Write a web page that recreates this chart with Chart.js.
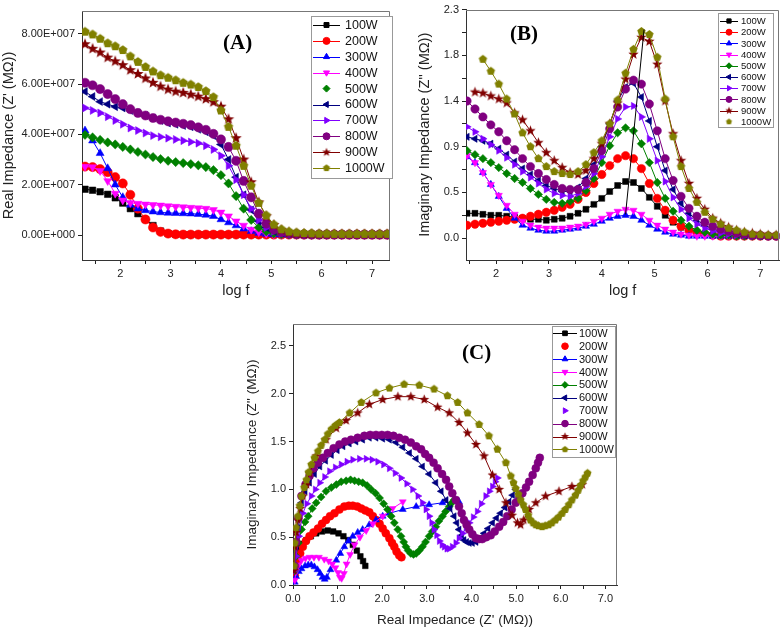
<!DOCTYPE html>
<html>
<head>
<meta charset="utf-8">
<script src="https://cdn.jsdelivr.net/npm/chart.js@4.4.0/dist/chart.umd.min.js"></script>
<style>
body{margin:0;background:#fff;width:784px;height:630px;position:relative;overflow:hidden}
canvas{position:absolute}
.tag{position:absolute;font-family:"Liberation Serif","Times New Roman",serif;font-weight:bold;font-size:21px;line-height:21px;color:#000}
</style>
</head>
<body>
<canvas id="chartA" width="395" height="300" style="left:0;top:0"></canvas>
<canvas id="chartB" width="379" height="300" style="left:405px;top:0"></canvas>
<canvas id="chartC" width="390" height="330" style="left:235px;top:300px"></canvas>
<div class="tag" style="left:223px;top:32px">(A)</div>
<div class="tag" style="left:510px;top:23px">(B)</div>
<div class="tag" style="left:462px;top:342px">(C)</div>
<script>
// ---- data ----
const seriesNames = ['100W','200W','300W','400W','500W','600W','700W','800W','900W','1000W'];

const logF = [1.3,1.45,1.6,1.75,1.9,2.05,2.2,2.35,2.5,2.65,
  2.8,2.95,3.1,3.25,3.4,3.55,3.7,3.85,4.0,4.15,
  4.3,4.45,4.6,4.75,4.9,5.05,5.2,5.35,5.5,5.65,
  5.8,5.95,6.1,6.25,6.4,6.55,6.7,6.85,7.0,7.15,7.3];

// (A) real impedance, units of 1E+007
const zReal100 = [1.82,1.78,1.72,1.62,1.48,1.27,1.05,0.85,0.62,0.38,
  0.16,0.06,0.03,0.02,0.02,0.02,0.02,0.02,0.02,0.02,
  0.02,0.02,0.02,0.02,0.02,0.02,0.02,0.02,0.02,0.02,
  0.02,0.02,0.02,0.02,0.02,0.02,0.02,0.02,0.02,0.02,0.02];
const zReal200 = [2.72,2.70,2.62,2.50,2.30,2.05,1.60,1.05,0.62,0.30,
  0.13,0.06,0.03,0.02,0.02,0.02,0.02,0.02,0.02,0.02,
  0.02,0.02,0.02,0.02,0.02,0.02,0.02,0.02,0.02,0.02,
  0.02,0.02,0.02,0.02,0.02,0.02,0.02,0.02,0.02,0.02,0.02];
const zReal300 = [4.15,3.75,3.25,2.65,2.00,1.50,1.20,1.05,0.98,0.93,
  0.90,0.88,0.87,0.86,0.85,0.83,0.80,0.75,0.62,0.50,
  0.38,0.25,0.15,0.08,0.04,0.02,0.02,0.02,0.02,0.02,
  0.02,0.02,0.02,0.02,0.02,0.02,0.02,0.02,0.02,0.02,0.02];
const zReal400 = [2.72,2.70,2.55,2.15,1.65,1.38,1.28,1.25,1.22,1.20,
  1.18,1.15,1.13,1.11,1.09,1.07,1.05,1.00,0.90,0.75,
  0.55,0.38,0.22,0.12,0.06,0.03,0.02,0.02,0.02,0.02,
  0.02,0.02,0.02,0.02,0.02,0.02,0.02,0.02,0.02,0.02,0.02];
const zReal500 = [3.98,3.88,3.78,3.68,3.60,3.50,3.40,3.30,3.20,3.10,
  3.02,2.95,2.90,2.86,2.82,2.77,2.70,2.58,2.38,2.05,
  1.55,1.05,0.60,0.30,0.15,0.07,0.04,0.03,0.02,0.02,
  0.02,0.02,0.02,0.02,0.02,0.02,0.02,0.02,0.02,0.02,0.02];
const zReal600 = [5.70,5.50,5.30,5.20,5.10,5.05,4.95,4.85,4.75,4.65,
  4.55,4.45,4.40,4.35,4.30,4.20,4.10,3.95,3.60,3.00,
  2.30,1.60,1.00,0.55,0.30,0.15,0.08,0.05,0.03,0.02,
  0.02,0.02,0.02,0.02,0.02,0.02,0.02,0.02,0.02,0.02,0.02];
const zReal700 = [5.05,4.95,4.85,4.70,4.55,4.40,4.25,4.15,4.05,3.95,
  3.90,3.85,3.80,3.75,3.70,3.65,3.55,3.40,3.15,2.75,
  2.20,1.60,1.05,0.60,0.30,0.15,0.07,0.04,0.03,0.02,
  0.02,0.02,0.02,0.02,0.02,0.02,0.02,0.02,0.02,0.02,0.02];
const zReal800 = [6.05,5.95,5.80,5.60,5.40,5.20,5.00,4.85,4.75,4.65,
  4.58,4.52,4.47,4.42,4.37,4.28,4.18,4.02,3.80,3.50,
  2.95,2.15,1.50,0.85,0.45,0.22,0.11,0.06,0.04,0.03,
  0.02,0.02,0.02,0.02,0.02,0.02,0.02,0.02,0.02,0.02,0.02];
const zReal900 = [7.58,7.40,7.25,7.05,6.90,6.75,6.55,6.40,6.22,6.05,
  5.90,5.78,5.70,5.65,5.58,5.50,5.40,5.28,5.10,4.60,
  3.85,3.00,2.10,1.30,0.75,0.40,0.20,0.10,0.06,0.05,
  0.04,0.03,0.03,0.03,0.03,0.03,0.03,0.03,0.03,0.03,0.03];
const zReal1000 = [8.08,7.97,7.80,7.62,7.50,7.35,7.10,6.88,6.68,6.50,
  6.35,6.25,6.15,6.05,5.98,5.88,5.72,5.48,4.95,4.30,
  3.55,2.75,1.96,1.28,0.78,0.42,0.23,0.14,0.10,0.08,
  0.07,0.06,0.06,0.05,0.05,0.05,0.05,0.05,0.05,0.05,0.05];

// (B) imaginary impedance, MΩ
const zImag100 = [null,0.25,0.25,0.24,0.23,0.23,0.22,0.21,0.20,0.19,
  0.19,0.18,0.19,0.20,0.22,0.25,0.29,0.34,0.40,0.47,
  0.53,0.57,0.56,0.50,0.41,0.32,0.23,0.16,0.11,0.08,
  0.05,0.04,0.03,0.02,0.02,0.02,0.02,0.02,0.02,0.02,0.02];
const zImag200 = [null,0.13,0.14,0.15,0.16,0.17,0.18,0.19,0.20,0.22,
  0.24,0.26,0.28,0.31,0.34,0.39,0.46,0.55,0.64,0.73,
  0.80,0.83,0.80,0.70,0.55,0.40,0.28,0.18,0.12,0.08,
  0.05,0.04,0.03,0.02,0.02,0.02,0.02,0.02,0.02,0.02,0.02];
const zImag300 = [null,0.82,0.76,0.66,0.54,0.42,0.30,0.20,0.13,0.10,
  0.08,0.07,0.07,0.08,0.09,0.10,0.12,0.14,0.17,0.20,
  0.22,0.23,0.22,0.18,0.13,0.09,0.06,0.04,0.03,0.02,
  0.02,0.02,0.02,0.02,0.02,0.02,0.02,0.02,0.02,0.02,0.02];
const zImag400 = [null,0.83,0.76,0.66,0.54,0.43,0.33,0.24,0.17,0.13,
  0.11,0.10,0.10,0.10,0.11,0.12,0.14,0.17,0.20,0.24,
  0.27,0.29,0.28,0.24,0.18,0.13,0.09,0.06,0.04,0.03,
  0.02,0.02,0.02,0.02,0.02,0.02,0.02,0.02,0.02,0.02,0.02];
const zImag500 = [null,0.88,0.84,0.80,0.76,0.71,0.65,0.60,0.56,0.50,
  0.44,0.39,0.36,0.35,0.37,0.40,0.48,0.60,0.76,0.93,
  1.06,1.11,1.08,0.95,0.76,0.56,0.40,0.27,0.18,0.12,
  0.08,0.06,0.04,0.03,0.03,0.02,0.02,0.02,0.02,0.02,0.02];
const zImag600 = [null,1.02,1.00,0.98,0.95,0.90,0.84,0.77,0.70,0.64,
  0.58,0.53,0.50,0.47,0.47,0.51,0.60,0.74,0.92,1.15,
  1.38,1.52,1.56,1.42,1.18,0.92,0.68,0.49,0.35,0.25,
  0.18,0.13,0.09,0.07,0.05,0.04,0.03,0.03,0.02,0.02,0.02];
const zImag700 = [null,1.12,1.07,1.00,0.94,0.88,0.81,0.74,0.67,0.61,
  0.55,0.49,0.45,0.43,0.42,0.45,0.52,0.65,0.82,1.02,
  1.20,1.32,1.33,1.22,1.00,0.78,0.57,0.41,0.29,0.20,
  0.14,0.10,0.07,0.05,0.04,0.03,0.03,0.02,0.02,0.02,0.02];
const zImag800 = [null,1.38,1.30,1.22,1.14,1.07,0.98,0.89,0.80,0.72,
  0.65,0.59,0.54,0.50,0.49,0.49,0.56,0.70,0.88,1.10,
  1.32,1.50,1.59,1.55,1.35,1.08,0.80,0.58,0.42,0.30,
  0.22,0.16,0.12,0.09,0.07,0.05,0.04,0.03,0.03,0.02,0.02];
const zImag900 = [null,null,1.47,1.46,1.43,1.40,1.36,1.26,1.19,1.08,
  0.96,0.86,0.78,0.71,0.66,0.64,0.68,0.80,0.95,1.15,
  1.36,1.60,1.85,2.02,1.98,1.75,1.38,1.05,0.78,0.55,
  0.40,0.29,0.20,0.15,0.11,0.08,0.06,0.05,0.04,0.03,0.03];
const zImag1000 = [null,null,null,1.80,1.68,1.55,1.40,1.25,1.06,0.92,
  0.80,0.72,0.67,0.65,0.64,0.67,0.74,0.86,0.98,1.15,
  1.39,1.66,1.90,2.08,2.05,1.82,1.40,1.02,0.72,0.50,
  0.36,0.26,0.19,0.14,0.10,0.08,0.06,0.04,0.035,0.03,0.03];
const peakArrow = [[4.45,0.24],[4.8,2.1]];

// (C) Nyquist: [Z' MΩ, Z'' MΩ]
const nyq100 = [[0.04,0.12],[0.07,0.22],[0.1,0.3],[0.15,0.37],[0.22,0.43],[0.3,0.47],[0.4,0.51],[0.52,0.54],[0.65,0.56],[0.78,0.57],
  [0.9,0.56],[1.02,0.54],[1.13,0.51],[1.24,0.47],[1.34,0.42],[1.43,0.36],[1.51,0.3],[1.57,0.25],[1.62,0.2]];
const nyq200 = [[0.04,0.1],[0.07,0.18],[0.11,0.26],[0.16,0.33],[0.22,0.4],[0.29,0.46],[0.37,0.51],[0.46,0.55],[0.56,0.59],[0.65,0.64],
  [0.74,0.68],[0.83,0.72],[0.93,0.75],[1.04,0.79],[1.15,0.82],[1.25,0.83],[1.34,0.83],[1.44,0.82],[1.53,0.8],[1.62,0.78],
  [1.71,0.76],[1.79,0.72],[1.86,0.68],[1.94,0.64],[2.01,0.59],[2.08,0.54],[2.16,0.49],[2.22,0.44],[2.27,0.4],[2.32,0.35],[2.38,0.31],[2.43,0.29]];
const nyq300 = [[0.04,0.03],[0.07,0.09],[0.13,0.14],[0.19,0.17],[0.27,0.2],[0.34,0.21],[0.41,0.21],[0.48,0.19],[0.55,0.16],[0.61,0.12],
  [0.66,0.08],[0.71,0.06],[0.76,0.08],[0.84,0.16],[0.97,0.26],[1.06,0.33],[1.15,0.4],[1.24,0.46],[1.34,0.51],[1.45,0.55],
  [1.56,0.58],[1.71,0.63],[1.86,0.68],[2.01,0.72],[2.16,0.75],[2.46,0.79],[2.76,0.82],[3.05,0.84],[3.35,0.86],[3.72,0.87]];
const nyq400 = [[0.04,0.05],[0.07,0.14],[0.12,0.21],[0.19,0.26],[0.28,0.28],[0.37,0.29],[0.47,0.29],[0.58,0.29],[0.7,0.27],[0.8,0.25],
  [0.88,0.22],[0.95,0.18],[1.01,0.13],[1.05,0.08],[1.09,0.07],[1.14,0.12],[1.2,0.22],[1.28,0.32],[1.38,0.42],[1.5,0.5],
  [1.64,0.57],[1.79,0.64],[2.01,0.72],[2.23,0.8],[2.46,0.87]];
const nyq500 = [[0.04,0.15],[0.07,0.3],[0.12,0.44],[0.19,0.58],[0.27,0.66],[0.34,0.72],[0.43,0.8],[0.52,0.86],[0.63,0.92],[0.74,0.98],
  [0.86,1.02],[0.97,1.05],[1.08,1.08],[1.19,1.09],[1.29,1.1],[1.38,1.09],[1.47,1.08],[1.56,1.07],[1.66,1.04],[1.75,1.0],
  [1.85,0.96],[1.94,0.91],[2.03,0.85],[2.12,0.79],[2.2,0.72],[2.27,0.65],[2.35,0.58],[2.42,0.51],[2.48,0.45],[2.53,0.4],
  [2.58,0.36],[2.64,0.33],[2.7,0.32],[2.76,0.33],[2.83,0.36],[2.9,0.4],[2.97,0.45],[3.05,0.51],[3.12,0.56],[3.2,0.61],
  [3.27,0.67],[3.35,0.72],[3.42,0.77],[3.5,0.82],[3.56,0.86],[3.61,0.89]];
const nyq600 = [[0.04,0.2],[0.07,0.4],[0.12,0.6],[0.19,0.86],[0.27,0.98],[0.37,1.07],[0.48,1.16],[0.6,1.24],[0.73,1.3],[0.86,1.36],
  [0.99,1.41],[1.12,1.45],[1.26,1.48],[1.41,1.5],[1.56,1.52],[1.71,1.54],[1.86,1.54],[2.01,1.53],[2.16,1.52],[2.31,1.49],
  [2.46,1.44],[2.61,1.38],[2.76,1.32],[2.9,1.24],[3.05,1.16],[3.2,1.07],[3.32,0.98],[3.43,0.89],[3.52,0.8],[3.61,0.72],
  [3.67,0.65],[3.72,0.58],[3.78,0.52],[3.83,0.47],[3.89,0.45],[3.95,0.44],[4.02,0.44],[4.1,0.45],[4.19,0.49],[4.28,0.54],
  [4.37,0.59],[4.47,0.65],[4.56,0.7],[4.65,0.75],[4.75,0.81],[4.84,0.87],[4.92,0.94],[4.99,1.0]];
const nyq700 = [[0.04,0.15],[0.07,0.3],[0.13,0.51],[0.22,0.75],[0.31,0.85],[0.41,0.93],[0.5,1.0],[0.6,1.07],[0.71,1.13],[0.82,1.19],
  [0.95,1.23],[1.08,1.26],[1.21,1.29],[1.34,1.31],[1.49,1.32],[1.64,1.32],[1.77,1.31],[1.9,1.29],[2.03,1.26],[2.16,1.22],
  [2.29,1.17],[2.42,1.12],[2.55,1.06],[2.68,1.0],[2.8,0.93],[2.9,0.86],[2.98,0.79],[3.05,0.72],[3.11,0.65],[3.16,0.58],
  [3.22,0.52],[3.28,0.46],[3.34,0.42],[3.39,0.4],[3.45,0.38],[3.5,0.38],[3.57,0.4],[3.65,0.44],[3.72,0.49],[3.8,0.54],
  [3.88,0.6],[3.95,0.65],[4.04,0.71],[4.13,0.77],[4.22,0.85],[4.32,0.93],[4.4,0.98],[4.47,1.03],[4.53,1.08],[4.58,1.12]];
const nyq800 = [[0.04,0.2],[0.07,0.45],[0.12,0.7],[0.19,0.93],[0.28,1.05],[0.37,1.14],[0.46,1.22],[0.56,1.28],[0.67,1.33],[0.78,1.38],
  [0.91,1.43],[1.04,1.47],[1.17,1.5],[1.3,1.52],[1.45,1.54],[1.6,1.56],[1.73,1.57],[1.86,1.57],[1.99,1.57],[2.12,1.57],
  [2.25,1.56],[2.38,1.54],[2.51,1.52],[2.64,1.49],[2.76,1.45],[2.87,1.42],[2.96,1.37],[3.05,1.33],[3.15,1.28],[3.24,1.22],
  [3.34,1.16],[3.43,1.1],[3.5,1.03],[3.57,0.96],[3.65,0.89],[3.72,0.82],[3.78,0.75],[3.83,0.68],[3.89,0.63],[3.95,0.58],
  [4.02,0.53],[4.1,0.49],[4.17,0.48],[4.24,0.48],[4.33,0.5],[4.43,0.52],[4.52,0.56],[4.62,0.61],[4.71,0.66],[4.8,0.72],
  [4.9,0.79],[4.99,0.86],[5.07,0.91],[5.14,0.96],[5.22,1.02],[5.29,1.08],[5.37,1.15],[5.44,1.22],[5.49,1.28],[5.53,1.33]];
const nyq900 = [[0.02,0.15],[0.04,0.4],[0.07,0.55],[0.11,0.68],[0.16,0.8],[0.22,0.93],[0.3,1.05],[0.37,1.17],[0.52,1.35],[0.74,1.52],
  [0.97,1.64],[1.19,1.72],[1.45,1.8],[1.71,1.89],[2.01,1.94],[2.35,1.97],[2.64,1.97],[2.94,1.94],[3.24,1.86],[3.5,1.8],
  [3.72,1.7],[3.91,1.59],[4.1,1.47],[4.28,1.35],[4.47,1.15],[4.62,1.0],[4.77,0.86],[4.91,0.73],[5.03,0.65],[5.1,0.63],
  [5.17,0.68],[5.29,0.79],[5.44,0.86],[5.66,0.93],[5.96,0.98],[6.25,1.03],[6.48,1.05]];
const nyq1000 = [[0.02,0.2],[0.04,0.44],[0.07,0.6],[0.11,0.72],[0.15,0.83],[0.19,0.93],[0.25,1.02],[0.3,1.1],[0.35,1.18],[0.41,1.26],
  [0.48,1.33],[0.56,1.4],[0.63,1.46],[0.71,1.52],[0.78,1.58],[0.86,1.63],[0.95,1.67],[1.04,1.7],[1.27,1.8],[1.53,1.91],
  [1.86,2.01],[2.16,2.06],[2.49,2.1],[2.83,2.09],[3.16,2.05],[3.46,1.98],[3.69,1.91],[3.91,1.8],[4.17,1.68],[4.39,1.56],
  [4.58,1.42],[4.77,1.28],[4.88,1.14],[4.94,1.07],[4.99,1.01],[5.05,0.95],[5.1,0.89],[5.16,0.84],[5.21,0.79],[5.27,0.73],
  [5.32,0.68],[5.38,0.65],[5.44,0.63],[5.5,0.62],[5.58,0.61],[5.65,0.62],[5.73,0.63],[5.8,0.65],[5.88,0.68],[5.95,0.71],
  [6.03,0.75],[6.1,0.79],[6.18,0.84],[6.25,0.89],[6.33,0.94],[6.39,0.99],[6.44,1.04],[6.5,1.09],[6.55,1.13],[6.6,1.17]];

// ticks
const logTicks = [1.5,2,2.5,3,3.5,4,4.5,5,5.5,6,6.5,7];
const aYTicks = [0,2,4,6,8];
const bYTicks = [0,0.23,0.46,0.69,0.92,1.15,1.38,1.61,1.84,2.07,2.3];
const bYLabels = ['0.0','','0.5','','0.9','','1.4','','1.8','','2.3'];
const cXTicks = [0,0.5,1,1.5,2,2.5,3,3.5,4,4.5,5,5.5,6,6.5,7];
const cYTicks = [0,0.5,1,1.5,2,2.5];

// ---- styles ----
const colors = ['#000000','#ff0000','#0000ff','#ff00ff','#008000','#000080','#8000ff','#800080','#800000','#808000'];
const shapes = ['rect','circle','triangle','triangle','rectRot','triangle','triangle','circle','star5','pentagon'];
const turns = [0,0,0,180,0,-90,90,0,0,0];
const FONT = '"Liberation Sans", Arial, sans-serif';

function shapeImage(kind, color, r) {
  const c = document.createElement('canvas');
  const s = Math.ceil(r * 2 + 2);
  c.width = s; c.height = s;
  const g = c.getContext('2d');
  g.fillStyle = color;
  g.beginPath();
  const n = kind === 'star5' ? 10 : 5;
  for (let k = 0; k < n; k++) {
    const ang = -Math.PI / 2 + k * 2 * Math.PI / n;
    const rr = kind === 'star5' ? (k % 2 ? r * 0.42 : r) : r;
    const px = s / 2 + rr * Math.cos(ang), py = s / 2 + rr * Math.sin(ang);
    if (k) g.lineTo(px, py); else g.moveTo(px, py);
  }
  g.closePath();
  g.fill();
  return c;
}

function styleFor(i, r) {
  if (shapes[i] === 'star5') return shapeImage('star5', colors[i], r * 1.3);
  if (shapes[i] === 'pentagon') return shapeImage('pentagon', colors[i], r * 1.05);
  return shapes[i];
}

function makeSets(pointsList, r) {
  return pointsList.map((pts, i) => ({
    label: seriesNames[i],
    data: pts,
    borderColor: colors[i],
    backgroundColor: colors[i],
    borderWidth: 1,
    pointStyle: styleFor(i, r),
    pointRotation: turns[i],
    pointRadius: r,
    pointBorderWidth: 0.5,
    pointBorderColor: colors[i],
    pointBackgroundColor: colors[i],
    tension: 0,
    order: seriesNames.length - i
  }));
}

// frame + in-plot legend
const panelDecor = {
  id: 'panelDecor',
  afterDraw(chart, args, o) {
    const ctx = chart.ctx, a = chart.chartArea;
    ctx.save();
    ctx.strokeStyle = '#777';
    ctx.lineWidth = 1;
    ctx.beginPath();
    ctx.moveTo(a.left, Math.round(a.top) + 0.5);
    ctx.lineTo(Math.round(a.right) - 0.5, Math.round(a.top) + 0.5);
    ctx.lineTo(Math.round(a.right) - 0.5, a.bottom);
    ctx.stroke();
    if (o.box) {
      const b = o.box;
      ctx.fillStyle = '#fff';
      ctx.fillRect(b.x, b.y, b.w, b.h);
      ctx.strokeStyle = '#999';
      ctx.strokeRect(b.x + 0.5, b.y + 0.5, b.w, b.h);
      ctx.font = o.fontSize + 'px ' + FONT;
      ctx.textBaseline = 'middle';
      ctx.textAlign = 'left';
      chart.data.datasets.forEach((ds, i) => {
        if (ds.noLegend) return;
        const y = o.firstRow + i * o.rowGap;
        ctx.strokeStyle = ds.borderColor;
        ctx.fillStyle = ds.borderColor;
        if (!o.noLine.includes(i)) {
          ctx.lineWidth = 1;
          ctx.beginPath();
          ctx.moveTo(o.lineX0, Math.round(y) + 0.5);
          ctx.lineTo(o.lineX1, Math.round(y) + 0.5);
          ctx.stroke();
        }
        Chart.helpers.drawPoint(ctx, {
          pointStyle: styleFor(i, o.markR), rotation: turns[i], radius: o.markR, borderWidth: 0.5
        }, o.markX, y);
        ctx.fillStyle = '#111';
        ctx.fillText(ds.label, o.textX, y + 0.5);
      });
    }
    ctx.restore();
  }
};

function axisCommon(extra) {
  return Object.assign({
    type: 'linear',
    grid: { drawOnChartArea: false, drawTicks: true, tickLength: 4, color: '#222' },
    border: { display: true, color: '#333', width: 1 },
  }, extra);
}

function buildChart(id, datasets, cfg) {
  return new Chart(document.getElementById(id), {
    type: 'line',
    data: { datasets },
    options: {
      responsive: false, animation: false, events: [],
      layout: { padding: cfg.padding },
      plugins: { legend: { display: false }, tooltip: { enabled: false }, panelDecor: cfg.legend },
      scales: {
        x: axisCommon({
          position: 'bottom', min: cfg.x.min, max: cfg.x.max,
          afterFit: s => { s.height = cfg.x.size; },
          afterBuildTicks: s => { s.ticks = cfg.x.ticks.map(v => ({ value: v })); },
          ticks: { autoSkip: false, maxRotation: 0, padding: 3, color: '#222',
            font: { family: FONT, size: 11 }, callback: cfg.x.label },
          title: { display: true, text: cfg.x.title, color: '#222',
            font: { family: FONT, size: cfg.titleSize }, padding: cfg.x.titlePad }
        }),
        y: axisCommon({
          position: 'left', min: cfg.y.min, max: cfg.y.max,
          afterFit: s => { s.width = cfg.y.size; },
          afterBuildTicks: s => { s.ticks = cfg.y.ticks.map(v => ({ value: v })); },
          ticks: { autoSkip: false, padding: 3, color: '#222',
            font: { family: FONT, size: 11 }, callback: cfg.y.label },
          title: { display: true, text: cfg.y.title, color: '#222',
            font: { family: FONT, size: cfg.titleSize }, padding: cfg.y.titlePad }
        })
      }
    },
    plugins: [panelDecor]
  });
}

const intLabel = v => Number.isInteger(v) ? String(v) : '';

// (A)
const realSeries = [zReal100, zReal200, zReal300, zReal400, zReal500, zReal600, zReal700, zReal800, zReal900, zReal1000];
buildChart('chartA', makeSets(realSeries.map(ys => logF.map((x, k) => ({ x, y: ys[k] }))), 4.6), {
  padding: { top: 11, right: 3, left: 0, bottom: 0 },
  titleSize: 14.5,
  x: { min: 1.24, max: 7.355, size: 40, ticks: logTicks, label: intLabel, title: 'log f', titlePad: { top: 0, bottom: 0 } },
  y: { min: -0.99, max: 8.9, size: 82, ticks: aYTicks,
       label: v => v === 0 ? '0.00E+000' : v.toFixed(2) + 'E+007',
       title: "Real Impedance (Z' (MΩ))", titlePad: { top: 0, bottom: 0 } },
  legend: { box: { x: 311, y: 16, w: 81, h: 162 }, firstRow: 25, rowGap: 15.9,
    lineX0: 313, lineX1: 340, markX: 326.5, textX: 345, fontSize: 12.5, markR: 3.5, noLine: [4] }
});

// (B)
const imagSeries = [zImag100, zImag200, zImag300, zImag400, zImag500, zImag600, zImag700, zImag800, zImag900, zImag1000];
const setsB = makeSets(imagSeries.map(ys => logF.map((x, k) => ({ x, y: ys[k] }))), 4.2);
setsB.push({ data: peakArrow.map(p => ({ x: p[0], y: p[1] })), borderColor: '#000', borderWidth: 1,
  pointRadius: 0, noLegend: true, order: 0 });
buildChart('chartB', setsB, {
  padding: { top: 5, right: 1, left: 0, bottom: 0 },
  titleSize: 14.5,
  x: { min: 1.43, max: 7.36, size: 40, ticks: logTicks, label: intLabel, title: 'log f', titlePad: { top: 0, bottom: 0 } },
  y: { min: -0.22, max: 2.3, size: 61, ticks: bYTicks, label: (v, i) => bYLabels[i],
       title: "Imaginary Impedance (Z'' (MΩ))", titlePad: { top: 11, bottom: 0 } },
  legend: { box: { x: 313, y: 13, w: 55, h: 114 }, firstRow: 21, rowGap: 11.2,
    lineX0: 315, lineX1: 333, markX: 324, textX: 336, fontSize: 9.5, markR: 3, noLine: [9] }
});

// (C)
const nyqSeries = [nyq100, nyq200, nyq300, nyq400, nyq500, nyq600, nyq700, nyq800, nyq900, nyq1000];
buildChart('chartC', makeSets(nyqSeries.map(pts => pts.map(p => ({ x: p[0], y: p[1] }))), 4), {
  padding: { top: 24, right: 8, left: 0, bottom: 0 },
  titleSize: 13.5,
  x: { min: 0, max: 7.26, size: 45, ticks: cXTicks, label: v => Number.isInteger(v) ? v.toFixed(1) : '',
       title: "Real Impedance (Z' (MΩ))", titlePad: { top: 0, bottom: 2 } },
  y: { min: 0, max: 2.73, size: 58, ticks: cYTicks, label: v => v.toFixed(1),
       title: "Imaginary Impedance (Z'' (MΩ))", titlePad: { top: 9, bottom: 0 } },
  legend: { box: { x: 317, y: 26, w: 63, h: 131 }, firstRow: 33.3, rowGap: 12.9,
    lineX0: 318, lineX1: 342, markX: 330, textX: 344, fontSize: 11, markR: 3.3, noLine: [1, 6] }
});
</script>
</body>
</html>
